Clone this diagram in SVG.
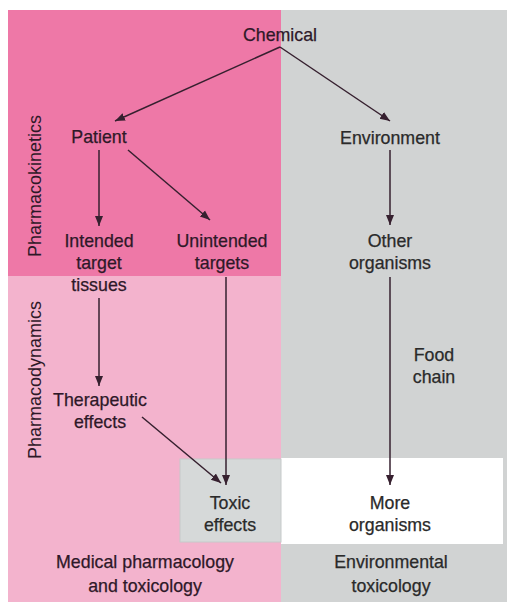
<svg xmlns="http://www.w3.org/2000/svg" width="507" height="605" viewBox="0 0 507 605">
<style>
text{font-family:"Liberation Sans",Arial,sans-serif;font-size:17.8px;text-anchor:middle;}
.pk{fill:#2e1828;stroke:#2e1828;stroke-width:0.25;}
.gy{fill:#2a2a2a;stroke:#2a2a2a;stroke-width:0.25;}
.side{fill:#2e1828;font-size:18px;}
.conn line{stroke:#36202f;stroke-width:1.5;fill:none;marker-end:url(#ah);}
</style>
<defs>
<marker id="ah" viewBox="0 0 10 10" refX="10" refY="5" markerWidth="10" markerHeight="10" markerUnits="userSpaceOnUse" orient="auto">
<path d="M0,1 L10,5 L0,9 Z" fill="#36202f"/>
</marker>
</defs>
<rect width="507" height="605" fill="#fff"/>
<g id="regions">
<rect x="8" y="10" width="273" height="266" fill="#ee78a7"/>
<rect x="8" y="276" width="273" height="326" fill="#f3b3cd"/>
<rect x="281" y="10" width="226" height="592" fill="#d1d3d3"/>
<rect x="281" y="458" width="222" height="86" fill="#ffffff"/>
<rect x="180" y="459" width="101" height="83" fill="#d6d9d9" stroke="#c6caca" stroke-width="1"/>
</g>
<g id="labels-side">
<text class="side" transform="translate(41,186) rotate(-90)">Pharmacokinetics</text>
<text class="side" transform="translate(41,380) rotate(-90)">Pharmacodynamics</text>
</g>
<g id="chemical"><text class="pk" x="280" y="41">Chemical</text></g>
<g id="patient"><text class="pk" x="99" y="143">Patient</text></g>
<g id="environment"><text class="gy" x="390" y="144">Environment</text></g>
<g id="intended"><text class="pk" x="99" y="247">Intended</text><text class="pk" x="99" y="269">target</text><text class="pk" x="99" y="291">tissues</text></g>
<g id="unintended"><text class="pk" x="222" y="247">Unintended</text><text class="pk" x="222" y="269">targets</text></g>
<g id="other"><text class="gy" x="390" y="247">Other</text><text class="gy" x="390" y="269">organisms</text></g>
<g id="foodchain"><text class="gy" x="434" y="361">Food</text><text class="gy" x="434" y="383">chain</text></g>
<g id="therapeutic"><text class="pk" x="100" y="406">Therapeutic</text><text class="pk" x="100" y="428">effects</text></g>
<g id="toxic"><text class="gy" x="230" y="509">Toxic</text><text class="gy" x="230" y="531">effects</text></g>
<g id="more"><text class="gy" x="390" y="509">More</text><text class="gy" x="390" y="531">organisms</text></g>
<g id="medical"><text class="pk" x="145" y="568">Medical pharmacology</text><text class="pk" x="145" y="592">and toxicology</text></g>
<g id="envtox"><text class="gy" x="391" y="568">Environmental</text><text class="gy" x="391" y="592">toxicology</text></g>
<g id="connectors" class="conn">
<line x1="280" y1="47" x2="115" y2="121"/>
<line x1="280" y1="47" x2="390" y2="121"/>
<line x1="99" y1="150" x2="99" y2="226"/>
<line x1="128" y1="150" x2="210" y2="220"/>
<line x1="390" y1="150" x2="390" y2="225"/>
<line x1="99" y1="298" x2="99" y2="386"/>
<line x1="226" y1="277" x2="226" y2="485"/>
<line x1="390" y1="277" x2="390" y2="485"/>
<line x1="142" y1="417" x2="221" y2="483"/>
</g>
</svg>
